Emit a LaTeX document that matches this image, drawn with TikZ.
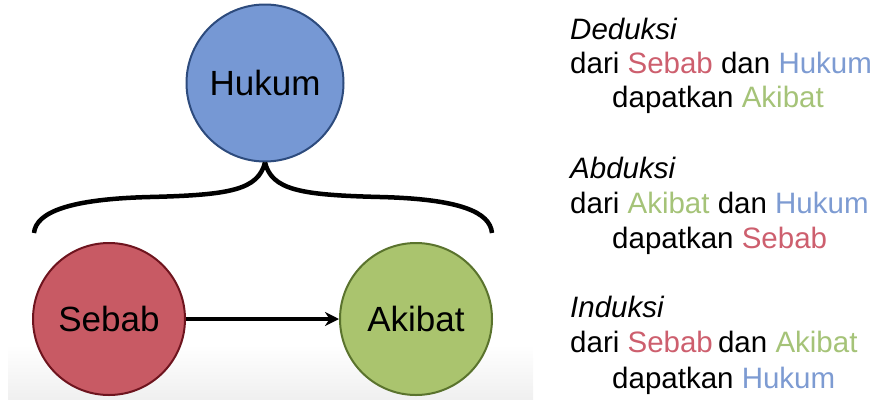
\documentclass[tikz,border=0pt]{standalone}
\usepackage{fontspec}
\setmainfont{Liberation Sans}
\usetikzlibrary{arrows.meta}

\definecolor{hukumfill}{RGB}{118,152,212}
\definecolor{hukumline}{RGB}{45,75,125}
\definecolor{sebabfill}{RGB}{200,90,100}
\definecolor{sebabline}{RGB}{110,20,30}
\definecolor{akibatfill}{RGB}{170,196,110}
\definecolor{akibatline}{RGB}{90,115,45}
\definecolor{hukumtxt}{RGB}{125,155,210}
\definecolor{sebabtxt}{RGB}{205,95,110}
\definecolor{akibattxt}{RGB}{165,195,120}

\begin{document}
\begin{tikzpicture}[x=1pt,y=-1pt,
    bulat/.style={circle,line width=2pt,minimum size=152pt,inner sep=0pt,
      font=\fontsize{35}{40}\selectfont},
    baris/.style={anchor=base west,inner sep=0pt,font=\fontsize{29.5}{34}\selectfont}]
      \useasboundingbox (0,0) rectangle (880,399);
      % latar abu-abu di bawah
      \shade[top color=white,bottom color=black!6] (8,345) rectangle (533,399);
      % lingkaran
      \node[bulat,minimum size=157pt,fill=hukumfill,draw=hukumline] (hukum) at (265,83) {Hukum};
      \node[bulat,fill=sebabfill,draw=sebabline] (sebab) at (109,319) {Sebab};
      \node[bulat,fill=akibatfill,draw=akibatline] (akibat) at (416,319) {Akibat};
      \draw[line width=3.5pt,-{Stealth[length=14pt,width=14pt]}] (sebab) -- (akibat);
      % kurung kurawal
      \coordinate (kiri) at (34,233);
      \coordinate (kanan) at (492,233);
      \draw[line width=4.5pt] (hukum.south) .. controls (258,190) and (230,195) .. (150,197)
        .. controls (70,199) and (36,212) .. (kiri);
      \draw[line width=4.5pt] (hukum.south) .. controls (272,190) and (300,195) .. (380,197)
        .. controls (460,199) and (490,212) .. (kanan);
      % teks kanan
      \node[baris] (ded) at (570,39) {\itshape Deduksi};
      \node[baris] (ded1) at (570,73) {dari \textcolor{sebabtxt}{Sebab} dan \textcolor{hukumtxt}{Hukum}};
      \node[baris] (ded2) at (612,107) {dapatkan \textcolor{akibattxt}{Akibat}};
      \node[baris] (abd) at (570,178) {\itshape Abduksi};
      \node[baris] (abd1) at (570,213) {dari \textcolor{akibattxt}{Akibat} dan \textcolor{hukumtxt}{Hukum}};
      \node[baris] (abd2) at (612,248) {dapatkan \textcolor{sebabtxt}{Sebab}};
      \node[baris] (ind) at (570,317) {\itshape Induksi};
      \node[baris] (ind1) at (570,352) {dari \textcolor{sebabtxt}{Sebab}\hspace{-3pt} dan \textcolor{akibattxt}{Akibat}};
      \node[baris] (ind2) at (612,388) {dapatkan \textcolor{hukumtxt}{Hukum}};
    \end{tikzpicture}
\end{document}
